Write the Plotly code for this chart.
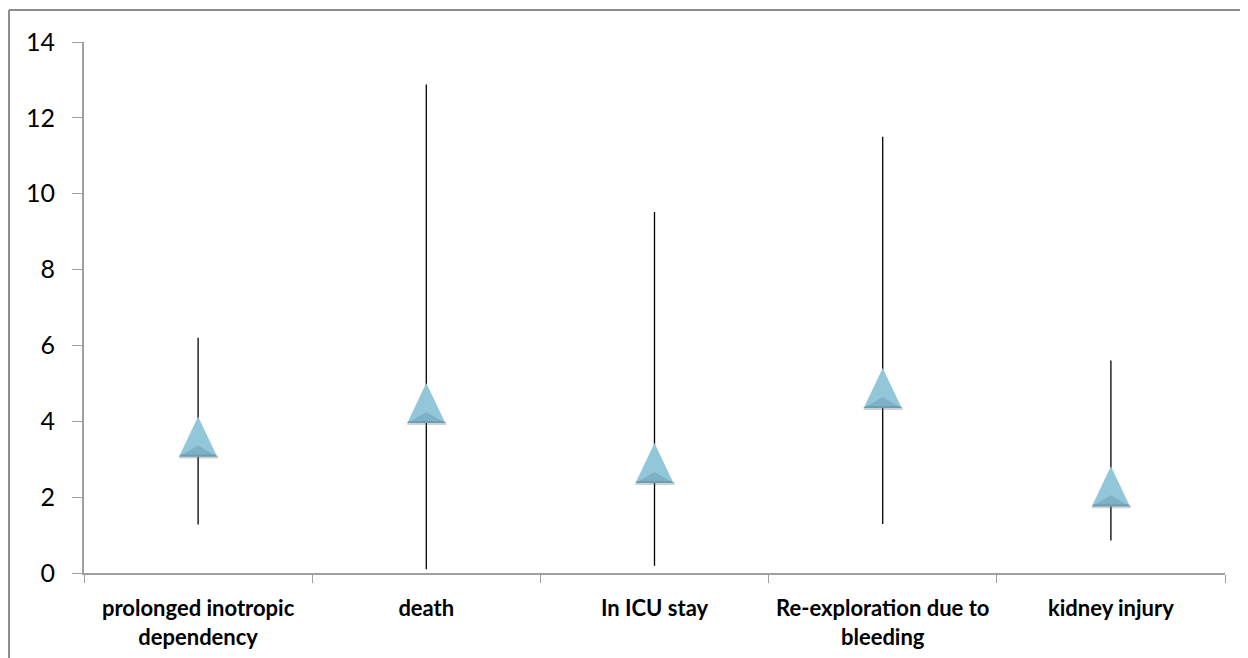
import plotly.graph_objects as go

categories = ["prolonged inotropic<br>dependency", "death", "In ICU stay",
              "Re-exploration due to<br>bleeding", "kidney injury"]
point = [3.6, 4.48, 2.9, 4.88, 2.29]
upper = [6.2, 12.88, 9.52, 11.5, 5.6]
lower = [1.28, 0.1, 0.19, 1.29, 0.86]
y_ticks = [0, 2, 4, 6, 8, 10, 12, 14]

# page body has an 8px margin, so the figure is sized/offset to compensate
W, H = 1240, 650
L, R, T, B = 76, 23, 34, 85
PW, PH = W - L - R, H - T - B

fig = go.Figure()
fig.add_trace(go.Scatter(
    x=categories, y=point, mode="markers",
    marker=dict(size=1, opacity=0),
    error_y=dict(type="data", symmetric=False,
                 array=[u - p for u, p in zip(upper, point)],
                 arrayminus=[p - l for p, l in zip(point, lower)],
                 color="black", thickness=1.3, width=0),
    showlegend=False, hoverinfo="skip"))

shapes = []
for c, p in zip(categories, point):
    common = dict(type="path", xref="x", yref="y", xsizemode="pixel", ysizemode="pixel",
                  xanchor=c, yanchor=p, layer="above", line=dict(width=0))
    shapes.append(dict(common, path="M -19,-22 L 20,-22 L 20,-19 L -19,-19 Z",
                       fillcolor="rgba(120,120,120,0.35)"))
    shapes.append(dict(common, path="M -19,-20 L 19,-20 L 0,20 Z",
                       fillcolor="#92c7da"))
    shapes.append(dict(common, path="M -19,-20 L 19,-20 L 0,-9 Z",
                       fillcolor="#7db2c6"))
    shapes.append(dict(common, path="M -19,-20 L 19,-20 L 17,-18 L -17,-18 Z",
                       fillcolor="#6d9fb2"))

# outer chart frame: only its left and top edges fall inside the picture
fx0 = (1 - L) / PW
fy1 = 1 + (T - 2) / PH
frame = dict(type="line", xref="paper", yref="paper", layer="below",
             line=dict(color="#8c8c8c", width=2))
shapes.append(dict(frame, x0=fx0, x1=fx0, y0=-(B + 10) / PH, y1=fy1))
shapes.append(dict(frame, x0=fx0, x1=1 + (R + 10) / PW, y0=fy1, y1=fy1))

fig.update_layout(
    width=W, height=H,
    margin=dict(l=L, r=R, t=T, b=B, autoexpand=False),
    paper_bgcolor="white", plot_bgcolor="white",
    shapes=shapes,
    font=dict(family="Lato, Carlito, Calibri, sans-serif", color="black"),
    xaxis=dict(type="category", range=[-0.5, 4.5], tickson="boundaries",
               ticks="outside", ticklen=8, tickcolor="#a0a0a0", tickwidth=1,
               showline=True, linecolor="#a0a0a0", linewidth=2,
               showgrid=False, zeroline=False, ticklabelstandoff=15,
               tickfont=dict(size=22, family="Lato", color="black", weight="bold")),
    yaxis=dict(range=[0, 14], tickvals=y_ticks, ticktext=[str(v) for v in y_ticks],
               ticks="outside", ticklen=10, tickcolor="#a0a0a0", tickwidth=1,
               showline=True, linecolor="#a0a0a0", linewidth=2,
               showgrid=False, zeroline=False, ticklabelstandoff=12,
               tickfont=dict(size=25, family="Lato", color="black")),
)

fig.write_html("out.html")
